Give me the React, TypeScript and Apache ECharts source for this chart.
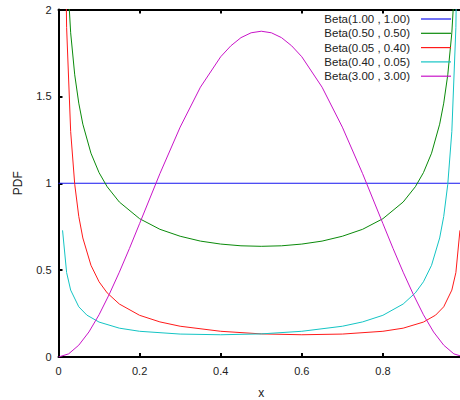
import React, { useEffect, useRef } from "react";
import * as echarts from "echarts";

const seriesNames = [
  "Beta(1.00 , 1.00)",
  "Beta(0.50 , 0.50)",
  "Beta(0.05 , 0.40)",
  "Beta(0.40 , 0.05)",
  "Beta(3.00 , 3.00)",
];
const seriesColors = ["#1414f0", "#0a8a0a", "#ff1a1a", "#14c4c4", "#c814c8"];

const uniformX = [0, 1];
const uniformY = [1, 1];

const arcsineX = [0.01, 0.02, 0.03, 0.04, 0.05, 0.06, 0.08, 0.1, 0.12, 0.15, 0.2, 0.25, 0.3, 0.35, 0.4, 0.45, 0.5, 0.55, 0.6, 0.65, 0.7, 0.75, 0.8, 0.85, 0.88, 0.9, 0.92, 0.94, 0.95, 0.96, 0.97, 0.98, 0.99];
const arcsineY = [3.199, 2.274, 1.866, 1.624, 1.461, 1.34, 1.173, 1.061, 0.98, 0.892, 0.796, 0.735, 0.695, 0.667, 0.65, 0.64, 0.637, 0.64, 0.65, 0.667, 0.695, 0.735, 0.796, 0.892, 0.98, 1.061, 1.173, 1.34, 1.461, 1.624, 1.866, 2.274, 3.199];

const redX = [0.01, 0.02, 0.03, 0.04, 0.05, 0.06, 0.08, 0.1, 0.12, 0.15, 0.2, 0.25, 0.3, 0.4, 0.5, 0.6, 0.7, 0.8, 0.85, 0.9, 0.93, 0.95, 0.97, 0.98, 0.99];
const redY = [3.642, 1.896, 1.298, 0.994, 0.809, 0.685, 0.528, 0.433, 0.369, 0.305, 0.24, 0.202, 0.177, 0.148, 0.133, 0.128, 0.132, 0.148, 0.166, 0.201, 0.241, 0.289, 0.385, 0.486, 0.729];

const cyanX = [0.01, 0.02, 0.03, 0.05, 0.07, 0.1, 0.15, 0.2, 0.3, 0.4, 0.5, 0.6, 0.7, 0.75, 0.8, 0.85, 0.88, 0.9, 0.92, 0.94, 0.95, 0.96, 0.97, 0.98, 0.99];
const cyanY = [0.729, 0.486, 0.385, 0.289, 0.241, 0.201, 0.166, 0.148, 0.132, 0.128, 0.133, 0.148, 0.177, 0.202, 0.24, 0.305, 0.369, 0.433, 0.528, 0.685, 0.809, 0.994, 1.298, 1.896, 3.642];

const bellX = [0, 0.025, 0.05, 0.075, 0.1, 0.125, 0.15, 0.175, 0.2, 0.25, 0.3, 0.35, 0.4, 0.425, 0.45, 0.475, 0.5, 0.525, 0.55, 0.575, 0.6, 0.65, 0.7, 0.75, 0.8, 0.825, 0.85, 0.875, 0.9, 0.925, 0.95, 0.975, 1];
const bellY = [0, 0.018, 0.068, 0.144, 0.243, 0.36, 0.488, 0.625, 0.768, 1.055, 1.323, 1.553, 1.728, 1.791, 1.838, 1.866, 1.875, 1.866, 1.838, 1.791, 1.728, 1.553, 1.323, 1.055, 0.768, 0.625, 0.488, 0.36, 0.243, 0.144, 0.068, 0.018, 0];

const allX = [uniformX, arcsineX, redX, cyanX, bellX];
const allY = [uniformY, arcsineY, redY, cyanY, bellY];

const FONT = "'Liberation Sans', Arial, sans-serif";

export default function App() {
  const ref = useRef<HTMLDivElement>(null);
  useEffect(() => {
    if (!ref.current) return;
    const chart = echarts.init(ref.current, null, { renderer: "svg" });
    const axisLine = { show: true, lineStyle: { color: "#000", width: 2 } };
    const axisTick = { show: true, inside: true, length: 4, lineStyle: { color: "#000", width: 2 } };
    chart.setOption({
      animation: false,
      backgroundColor: "#fff",
      grid: { left: 58.5, right: -4, top: 9.5, bottom: 43, containLabel: false, outerBoundsMode: "none" },
      legend: {
        orient: "vertical",
        right: 9,
        top: 12,
        padding: 0,
        align: "right",
        icon: "rect",
        itemWidth: 30,
        itemHeight: 1.2,
        itemGap: 0.3,
        data: seriesNames,
        textStyle: { fontSize: 11.5, fontFamily: FONT, color: "#222", lineHeight: 14, padding: [0, 6, 0, 0] },
      },
      xAxis: [
        {
          type: "value",
          min: 0,
          max: 1,
          interval: 0.2,
          name: "x",
          nameLocation: "middle",
          nameGap: 30,
          nameTextStyle: { fontSize: 12, fontFamily: FONT, color: "#222" },
          axisLine,
          axisTick,
          splitLine: { show: false },
          axisLabel: { fontSize: 11, fontFamily: FONT, color: "#222", margin: 8, showMaxLabel: false },
        },
        {
          type: "value",
          position: "top",
          min: 0,
          max: 1,
          interval: 0.2,
          axisLine,
          axisTick,
          splitLine: { show: false },
          axisLabel: { show: false },
        },
      ],
      yAxis: {
        type: "value",
        min: 0,
        max: 2,
        interval: 0.5,
        name: "PDF",
        nameLocation: "middle",
        nameGap: 35,
        nameTextStyle: { fontSize: 12, fontFamily: FONT, color: "#222" },
        axisLine,
        axisTick,
        splitLine: { show: false },
        axisLabel: { fontSize: 11, fontFamily: FONT, color: "#222", margin: 7 },
      },
      series: seriesNames.map((name, i) => ({
        name,
        type: "line",
        xAxisIndex: 0,
        symbol: "none",
        clip: true,
        color: seriesColors[i],
        lineStyle: { width: 1, color: seriesColors[i] },
        data: allX[i].map((x, j) => [x, allY[i][j]]),
      })),
    });
    return () => chart.dispose();
  }, []);
  return (
    <div
      ref={ref}
      style={{ position: "fixed", left: 0, top: 0, width: 460, height: 400, background: "#fff" }}
    />
  );
}
